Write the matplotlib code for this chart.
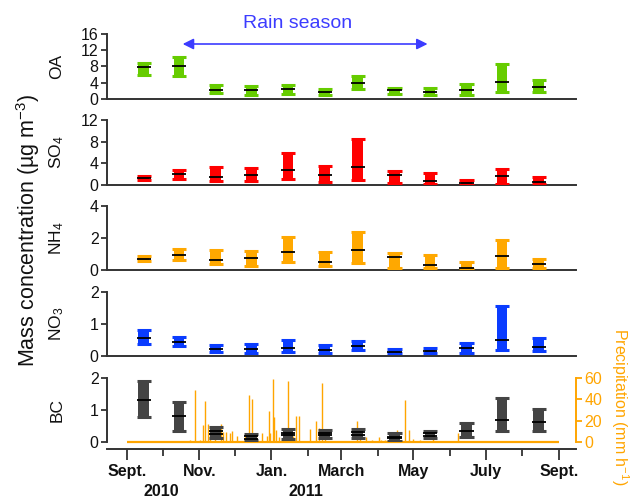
import numpy as np
import matplotlib
matplotlib.use('Agg')
import matplotlib.pyplot as plt
import matplotlib.dates as mdates
import matplotlib.transforms as mtransforms
from datetime import datetime

plt.rcParams['font.family'] = ['Liberation Sans', 'DejaVu Sans']
plt.rcParams['mathtext.fontset'] = 'custom'
plt.rcParams['mathtext.rm'] = 'Liberation Sans'
plt.rcParams['mathtext.it'] = 'Liberation Sans:italic'
plt.rcParams['mathtext.bf'] = 'Liberation Sans:bold'

# monthly boxes, Sept. 2010 - Aug. 2011 (low / median / high)
months = ['2010-09-15', '2010-10-15', '2010-11-15', '2010-12-15', '2011-01-15', '2011-02-15',
          '2011-03-15', '2011-04-15', '2011-05-15', '2011-06-15', '2011-07-15', '2011-08-15']

oa_lo = [5.9, 5.6, 1.4, 1.1, 1.3, 1.0, 2.5, 1.2, 1.1, 1.1, 1.6, 1.6]
oa_med = [7.8, 8.0, 2.2, 2.1, 2.5, 1.8, 4.0, 2.1, 1.8, 2.1, 4.3, 2.9]
oa_hi = [8.9, 10.4, 3.4, 3.2, 3.5, 2.5, 5.6, 2.6, 2.8, 3.7, 8.5, 4.6]

so4_lo = [0.9, 1.1, 0.7, 0.7, 1.05, 0.5, 1.0, 0.3, 0.2, 0.05, 0.1, 0.1]
so4_med = [1.35, 2.0, 1.4, 1.85, 2.7, 1.85, 3.3, 1.85, 0.7, 0.3, 1.7, 0.5]
so4_hi = [1.6, 2.8, 3.3, 3.1, 5.9, 3.45, 8.4, 2.6, 2.3, 1.0, 2.95, 1.4]

nh4_lo = [0.56, 0.6, 0.35, 0.25, 0.5, 0.25, 0.44, 0.15, 0.1, 0.04, 0.15, 0.15]
nh4_med = [0.71, 0.96, 0.65, 0.73, 1.1, 0.5, 1.23, 0.81, 0.33, 0.15, 0.9, 0.38]
nh4_hi = [0.9, 1.33, 1.23, 1.2, 2.08, 1.13, 2.35, 1.08, 0.92, 0.52, 1.88, 0.71]

no3_lo = [0.39, 0.3, 0.11, 0.08, 0.14, 0.08, 0.18, 0.08, 0.09, 0.1, 0.2, 0.16]
no3_med = [0.55, 0.45, 0.23, 0.21, 0.24, 0.18, 0.32, 0.14, 0.16, 0.26, 0.51, 0.28]
no3_hi = [0.8, 0.59, 0.33, 0.36, 0.51, 0.34, 0.47, 0.23, 0.26, 0.42, 1.57, 0.57]

bc_lo = [0.78, 0.34, 0.14, 0.05, 0.09, 0.13, 0.13, 0.04, 0.14, 0.15, 0.35, 0.34]
bc_med = [1.32, 0.82, 0.34, 0.18, 0.29, 0.28, 0.31, 0.17, 0.27, 0.34, 0.69, 0.64]
bc_2nd = [np.nan, np.nan, 0.24, 0.10, 0.21, 0.22, 0.22, 0.11, 0.20, np.nan, np.nan, np.nan]
bc_hi = [1.92, 1.24, 0.46, 0.24, 0.40, 0.38, 0.42, 0.27, 0.34, 0.6, 1.36, 1.03]

# precipitation events (mm h-1)
rain_dates = ['2010-10-24', '2010-10-28', '2010-11-02', '2010-11-04', '2010-11-06', '2010-11-08',
              '2010-11-10', '2010-11-14', '2010-11-19', '2010-11-21', '2010-11-24', '2010-11-27',
              '2010-11-29', '2010-12-03', '2010-12-10', '2010-12-13', '2010-12-16', '2010-12-19',
              '2010-12-24', '2010-12-28', '2010-12-30', '2010-12-31', '2011-01-02', '2011-01-03',
              '2011-01-05', '2011-01-07', '2011-01-13', '2011-01-15', '2011-01-19', '2011-01-22',
              '2011-01-24', '2011-02-03', '2011-02-08', '2011-02-10', '2011-02-13', '2011-02-15',
              '2011-02-22', '2011-03-14', '2011-03-17', '2011-03-22', '2011-03-27', '2011-04-02',
              '2011-04-04', '2011-04-07', '2011-04-17', '2011-04-24', '2011-04-27', '2011-05-01',
              '2011-05-07', '2011-05-18', '2011-06-08']
rain_vals = [2, 48.6, 2, 16, 38.8, 17, 8, 13, 17, 9, 9, 8, 10, 6, 6, 44, 40, 8, 8, 6, 29, 8, 59,
             23, 11, 5, 8, 57, 6, 24, 24, 12, 20, 13, 55, 5, 1, 20, 9, 5, 2, 5, 2, 2, 11, 39, 11,
             3, 2, 5, 8]

tick_dates = ['2010-09-01', '2010-11-01', '2011-01-01', '2011-03-01', '2011-05-01', '2011-07-01', '2011-09-01']
tick_labels = ['Sept.', 'Nov.', 'Jan.', 'March', 'May', 'July', 'Sept.']
minor_dates = ['2010-10-01', '2010-12-01', '2011-02-01', '2011-04-01', '2011-06-01', '2011-08-01']


def dnum(lst):
    return mdates.date2num([datetime.strptime(s, '%Y-%m-%d') for s in lst])


x = dnum(months)
W = 632
H = 498
fig = plt.figure(figsize=(6.32, 4.98), dpi=100)

spine_c = '#333333'
panels = [
    ('OA', oa_lo, oa_med, oa_hi, '#66cc00', (0, 16), [0, 4, 8, 12, 16], 34, 99),
    ('SO$_4$', so4_lo, so4_med, so4_hi, '#ff0000', (0, 12), [0, 4, 8, 12], 120, 185),
    ('NH$_4$', nh4_lo, nh4_med, nh4_hi, '#ffa800', (0, 4), [0, 2, 4], 206, 270),
    ('NO$_3$', no3_lo, no3_med, no3_hi, '#0a3cff', (0, 2), [0, 1, 2], 292, 356),
    ('BC', bc_lo, bc_med, bc_hi, '#444444', (0, 2), [0, 1, 2], 378, 442),
]

xmin = mdates.date2num(datetime(2010, 8, 15))
xmax = mdates.date2num(datetime(2011, 9, 15, 12))
x0, x1 = 107, 576

axes = []
for name, lo, med, hi, col, ylim, yt, ytop, ybot in panels:
    ax = fig.add_axes([x0 / W, 1 - ybot / H, (x1 - x0) / W, (ybot - ytop) / H])
    lo = np.array(lo)
    hi = np.array(hi)
    ax.bar(x, hi - lo, bottom=lo, width=9, color=col, zorder=3)
    ax.hlines(lo, x - 6, x + 6, color=col, lw=2.2, zorder=3)
    ax.hlines(hi, x - 6, x + 6, color=col, lw=2.2, zorder=3)
    ax.hlines(med, x - 6, x + 6, color='k', lw=1.3, zorder=4)
    ax.set_xlim(xmin, xmax)
    ax.set_ylim(*ylim)
    ax.set_yticks(yt)
    for s in ['top', 'right']:
        ax.spines[s].set_visible(False)
    for s in ['left', 'bottom']:
        ax.spines[s].set_color(spine_c)
        ax.spines[s].set_linewidth(1.4)
    ax.tick_params(axis='y', direction='out', length=4, width=1.3, colors=spine_c,
                   labelcolor='#111111', labelsize=11.5, pad=2)
    ax.tick_params(axis='x', bottom=False, labelbottom=False)
    fig.text(57 / W, 1 - ((ytop + ybot) / 2) / H, name, rotation=90, ha='center', va='center',
             fontsize=12.5, color='#111111')
    axes.append(ax)

# BC: second line, precipitation, date axis
ax_bc = axes[-1]
ax_bc.hlines(bc_2nd, x - 6, x + 6, color='k', lw=1.3, zorder=4)
ax_bc.spines['bottom'].set_position(('outward', 5))
ax_bc.set_xticks(dnum(tick_dates))
ax_bc.set_xticklabels(tick_labels, fontweight='bold', fontsize=11.5)
ax_bc.set_xticks(dnum(minor_dates), minor=True)
ax_bc.tick_params(axis='x', which='major', bottom=True, labelbottom=True, direction='out',
                  length=8, width=1.3, colors=spine_c, labelcolor='#111111', pad=3)
ax_bc.tick_params(axis='x', which='minor', bottom=True, direction='out', length=5, width=1.3,
                  colors=spine_c)

rain_c = '#ffa500'
ax_p = ax_bc.twinx()
ax_p.vlines(dnum(rain_dates), 0, rain_vals, color=rain_c, lw=1)
ax_p.plot(dnum(['2010-09-01', '2011-09-01']), [0, 0], color=rain_c, lw=1.6, zorder=3,
          clip_on=False, solid_capstyle='butt')
ax_p.set_ylim(0, 60)
ax_p.set_yticks([0, 20, 40, 60])
for s in ['top', 'left', 'bottom']:
    ax_p.spines[s].set_visible(False)
ax_p.spines['right'].set_color(rain_c)
ax_p.spines['right'].set_linewidth(1.4)
ax_p.tick_params(axis='y', direction='out', length=4, width=1.3, colors=rain_c, labelsize=11.5, pad=2)
ax_bc.set_zorder(ax_p.get_zorder() + 1)
ax_bc.patch.set_visible(False)

# years
tr = mtransforms.blended_transform_factory(ax_bc.transData, fig.transFigure)
ax_bc.text(dnum(['2010-09-30'])[0], 1 - 491 / H, '2010', transform=tr, ha='center', va='center',
           fontsize=11.5, fontweight='bold', color='#111111')
ax_bc.text(dnum(['2011-01-30'])[0], 1 - 491 / H, '2011', transform=tr, ha='center', va='center',
           fontsize=11.5, fontweight='bold', color='#111111')

# rain season arrow
ax_oa = axes[0]
tr_oa = mtransforms.blended_transform_factory(ax_oa.transData, fig.transFigure)
rain_blue = '#3c3cff'
ax_oa.annotate('', xy=(dnum(['2011-05-13'])[0], 1 - 44 / H), xycoords=tr_oa,
               xytext=(dnum(['2010-10-18'])[0], 1 - 44 / H), textcoords=tr_oa,
               arrowprops=dict(arrowstyle='<|-|>', color=rain_blue, lw=1.2, mutation_scale=16,
                               shrinkA=0, shrinkB=0))
ax_oa.text(dnum(['2011-01-23'])[0], 1 - 23 / H, 'Rain season', transform=tr_oa, ha='center',
           va='center', fontsize=14, color=rain_blue)

fig.text(28 / W, 1 - 230 / H, 'Mass concentration (µg m$^{-3}$)', rotation=90, ha='center',
         va='center', fontsize=15.5, color='#111111')
fig.text(620 / W, 1 - 407 / H, 'Precipitation (mm h$^{-1}$)', rotation=270, ha='center',
         va='center', fontsize=11.5, color=rain_c)

fig.savefig('out.png', dpi=100)
